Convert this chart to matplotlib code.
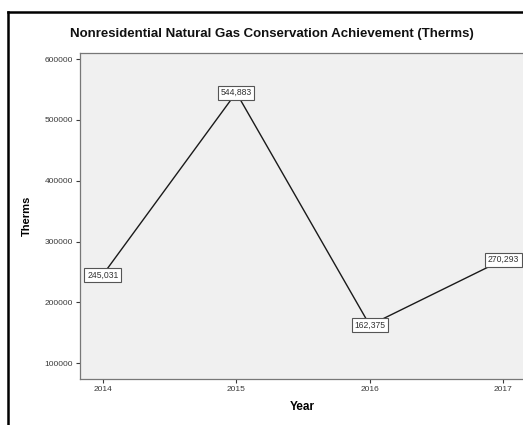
import matplotlib
matplotlib.use("Agg")
from matplotlib import pyplot as plt
from matplotlib.lines import Line2D

plt.rcParams['font.family'] = ['Liberation Sans', 'DejaVu Sans']

# conservation achievement per year
years = [2014, 2015, 2016, 2017]
therms = [245031, 544883, 162375, 270293]
y_ticks = [100000, 200000, 300000, 400000, 500000, 600000]

fig = plt.figure(figsize=(5.23, 4.25), dpi=100)
ax = fig.add_axes([80 / 523, 46 / 425, 1 - 80 / 523 + 0.002, 326 / 425])
ax.set_facecolor('#f0f0f0')

ax.plot(years, therms, color='#1a1a1a', linewidth=1.0)

# value labels in small boxes on each point
for x, y in zip(years, therms):
    ax.text(x, y, f'{y:,}', ha='center', va='center', fontsize=6.2, color='#333333',
            bbox=dict(boxstyle='square,pad=0.3', fc='white', ec='#555555', lw=0.8))

ax.set_xlim(2013.83, 2017.155)
ax.set_ylim(74000, 610000)
ax.set_xticks(years)
ax.set_yticks(y_ticks)
ax.set_xticklabels([str(y) for y in years])
ax.set_yticklabels([str(v) for v in y_ticks])
ax.tick_params(axis='both', labelsize=6, colors='#3a3a3a', length=3, width=0.8, pad=2)

for side in ['left', 'bottom', 'top', 'right']:
    ax.spines[side].set_color('#777777')
    ax.spines[side].set_linewidth(0.9)

ax.set_xlabel('Year', fontsize=8.5, fontweight='bold', labelpad=6)
ax.set_ylabel('Therms', fontsize=8, fontweight='bold', labelpad=9)

fig.text(272 / 523, 1 - 34 / 425, 'Nonresidential Natural Gas Conservation Achievement (Therms)',
         ha='center', va='center', fontsize=9.5, fontweight='bold', color='#111111')

# outer frame lines on left and top
fig.add_artist(Line2D([8 / 523, 8 / 523], [0, 1 - 12 / 425], transform=fig.transFigure,
                      color='black', linewidth=1.8))
fig.add_artist(Line2D([8 / 523, 1], [1 - 12 / 425, 1 - 12 / 425], transform=fig.transFigure,
                      color='black', linewidth=1.8))

fig.savefig('out.png', dpi=100)
